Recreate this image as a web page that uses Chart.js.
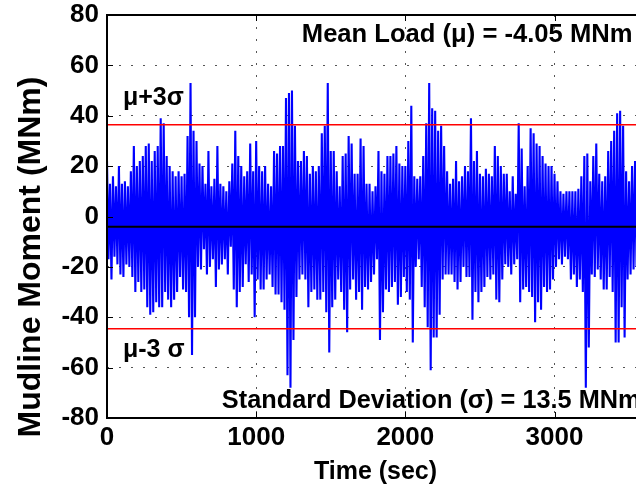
<!DOCTYPE html>
<html>
<head>
<meta charset="utf-8">
<script src="https://cdn.jsdelivr.net/npm/chart.js@4"></script>
<style>
  html, body { margin: 0; padding: 0; overflow: hidden; background: #fff; }
  #container { width: 660px; height: 490px; }
</style>
</head>
<body>
<div id="container">
  <canvas id="canvas" width="660" height="490"></canvas>
</div>
<script>
// mudline moment history, read off the plot as alternating
// local max / local min, one every 10 sec (max at 0,20,40.. min at 10,30,50..)
var sampleStep = 10;

var peakHigh = [
  22, 13, 16, 12, 20, 13, 14, 12, 18, 28,
  20, 22, 24, 28, 29, 22, 26, 28, 39, 37,
  24, 20, 18, 16, 18, 16, 17, 32, 53, 34,
  30, 21, 20, 13, 26, 12, 15, 28, 13, 12,
  10, 14, 21, 34, 24, 20, 16, 18, 29, 18,
  30, 20, 18, 20, 13, 12, 26, 25, 28, 28,
  47, 49, 50, 36, 22, 22, 26, 24, 17, 20,
  18, 20, 33, 36, 53, 26, 26, 18, 12, 24,
  25, 32, 29, 17, 17, 31, 28, 13, 13, 10,
  12, 26, 18, 17, 24, 24, 25, 28, 21, 20,
  20, 30, 44, 16, 15, 16, 24, 37, 53, 43,
  42, 34, 36, 28, 18, 13, 15, 22, 14, 16,
  20, 18, 39, 22, 26, 17, 16, 19, 17, 16,
  28, 24, 20, 17, 17, 10, 16, 9, 37, 27,
  12, 20, 35, 33, 29, 28, 24, 21, 20, 20,
  17, 14, 10, 9, 10, 10, 10, 10, 11, 16,
  24, 25, 14, 24, 29, 17, 14, 16, 26, 30,
  34, 41, 42, 36, 18, 14, 20, 22, 20, 15
];

var peakLow = [
  -17, -25, -16, -19, -23, -24, -19, -20, -24, -30,
  -26, -30, -29, -36, -39, -38, -34, -36, -36, -30,
  -33, -36, -33, -30, -24, -29, -30, -40, -55, -40,
  -20, -21, -13, -23, -20, -17, -28, -21, -19, -17,
  -23, -12, -29, -36, -30, -28, -19, -26, -23, -40,
  -25, -29, -29, -25, -23, -28, -31, -31, -34, -37,
  -63, -68, -49, -32, -25, -23, -25, -36, -30, -29,
  -33, -33, -30, -38, -54, -36, -33, -25, -30, -37,
  -46, -29, -25, -33, -30, -37, -28, -29, -26, -23,
  -17, -49, -38, -29, -30, -28, -26, -35, -32, -24,
  -30, -33, -50, -20, -17, -28, -36, -44, -61, -48,
  -48, -39, -25, -23, -23, -23, -26, -29, -26, -20,
  -24, -24, -41, -30, -34, -30, -28, -24, -25, -23,
  -33, -34, -25, -19, -20, -23, -19, -17, -34, -29,
  -28, -30, -32, -42, -34, -37, -28, -30, -29, -25,
  -20, -17, -19, -16, -17, -25, -23, -28, -25, -30,
  -68, -52, -23, -24, -21, -25, -29, -29, -24, -30,
  -50, -50, -36, -48, -25, -23, -21, -20, -18, -22
];

var meanLoad = -4.05;   // MNm
var stdDev = 13.5;      // MNm
var timeRange = [0, 3600];
var xTicks = [0, 1000, 2000, 3000];
var yTicks = [-80, -60, -40, -20, 0, 20, 40, 60, 80];

// text annotations, placed in data units (x = sec, y = MNm, at the baseline)
var notes = [
  { text: 'Mean Load (\u03bc) = ' + meanLoad + ' MNm', x: 1306, y: 69.2, size: 25.6 },
  { text: 'Standard Deviation (\u03c3) = ' + stdDev + ' MNm', x: 770, y: -76, size: 25.3 },
  { text: '\u03bc+3\u03c3', x: 107, y: 44.2, size: 25 },
  { text: '\u03bc-3 \u03c3', x: 107, y: -55.8, size: 25 }
];

var fontName = '"Liberation Sans", Arial, Helvetica, sans-serif';

var signal = [];
for (var k = 0; k < peakHigh.length; k++) {
  signal.push({ x: 2 * k * sampleStep, y: peakHigh[k] });
  signal.push({ x: (2 * k + 1) * sampleStep, y: peakLow[k] });
}

function hLine(v) {
  return [{ x: timeRange[0], y: v }, { x: timeRange[1], y: v }];
}

// frame, inward ticks, titles and notes (MATLAB look)
var decorPlugin = {
  id: 'decor',
  afterDraw: function(chart) {
    var ctx = chart.ctx, a = chart.chartArea;
    var sx = chart.scales.x, sy = chart.scales.y;
    ctx.save();
    ctx.strokeStyle = '#000';
    ctx.lineWidth = 2;
    ctx.beginPath();
    ctx.rect(a.left, a.top, a.right - a.left, a.bottom - a.top);
    ctx.stroke();

    ctx.lineWidth = 1;
    ctx.beginPath();
    xTicks.forEach(function(v) {
      var px = Math.round(sx.getPixelForValue(v)) + 0.5;
      ctx.moveTo(px, a.bottom); ctx.lineTo(px, a.bottom - 6);
      ctx.moveTo(px, a.top); ctx.lineTo(px, a.top + 6);
    });
    yTicks.forEach(function(v) {
      var py = Math.round(sy.getPixelForValue(v)) + 0.5;
      ctx.moveTo(a.left, py); ctx.lineTo(a.left + 6, py);
      ctx.moveTo(a.right, py); ctx.lineTo(a.right - 6, py);
    });
    ctx.stroke();

    ctx.fillStyle = '#000';
    ctx.textBaseline = 'alphabetic';
    ctx.textAlign = 'left';
    notes.forEach(function(n) {
      ctx.font = 'bold ' + n.size + 'px ' + fontName;
      ctx.fillText(n.text, sx.getPixelForValue(n.x), sy.getPixelForValue(n.y));
    });

    // axis titles
    ctx.textAlign = 'center';
    ctx.font = 'bold 25px ' + fontName;
    ctx.fillText('Time (sec)', (a.left + a.right) / 2, 479);
    ctx.save();
    ctx.translate(40, 257);
    ctx.rotate(-Math.PI / 2);
    ctx.font = 'bold 32px ' + fontName;
    ctx.fillText('Mudline Moment (MNm)', 0, 0);
    ctx.restore();
    ctx.restore();
  }
};

var ctx = document.getElementById('canvas');
window.myChart = new Chart(ctx, {
  type: 'line',
  data: {
    datasets: [
      { data: hLine(meanLoad), borderColor: '#000000', borderWidth: 2, order: 0 },
      { data: hLine(meanLoad + 3 * stdDev), borderColor: '#ff0000', borderWidth: 1.5, order: 0 },
      { data: hLine(meanLoad - 3 * stdDev), borderColor: '#ff0000', borderWidth: 1.5, order: 0 },
      { data: signal, borderColor: '#0000ff', borderWidth: 2.1, order: 1 }
    ]
  },
  options: {
    responsive: false,
    animation: false,
    events: [],
    layout: { padding: { top: 15, right: 16, left: 0, bottom: 0 } },
    elements: { point: { radius: 0 }, line: { tension: 0, borderJoinStyle: 'miter' } },
    plugins: { legend: { display: false }, tooltip: { enabled: false } },
    scales: {
      x: {
        type: 'linear',
        min: timeRange[0],
        max: timeRange[1],
        afterBuildTicks: function(axis) { axis.ticks = xTicks.map(function(v) { return { value: v }; }); },
        afterFit: function(axis) { axis.height = 72; axis.paddingLeft = 0; axis.paddingRight = 0; },
        grid: { color: '#555', lineWidth: 1, drawTicks: false },
        border: { display: false, dash: [2, 10] },
        ticks: {
          color: '#000', padding: 4, maxRotation: 0,
          callback: function(v) { return String(v); },
          font: { family: fontName, size: 26, weight: 'bold' }
        }
      },
      y: {
        min: -80,
        max: 80,
        afterBuildTicks: function(axis) { axis.ticks = yTicks.map(function(v) { return { value: v }; }); },
        afterFit: function(axis) { axis.width = 107; axis.paddingTop = 0; axis.paddingBottom = 0; },
        grid: { color: '#555', lineWidth: 1, drawTicks: false },
        border: { display: false, dash: [2, 10] },
        ticks: {
          color: '#000', padding: 8,
          callback: function(v) { return String(v); },
          font: { family: fontName, size: 26, weight: 'bold' }
        }
      }
    }
  },
  plugins: [decorPlugin]
});
</script>
</body>
</html>
